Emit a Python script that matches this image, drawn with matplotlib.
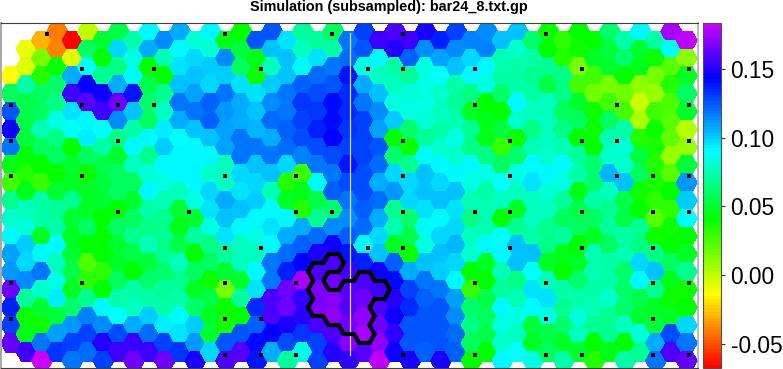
import matplotlib
matplotlib.use("Agg")
import matplotlib.pyplot as plt
import numpy as np
from matplotlib.collections import LineCollection, PolyCollection
from matplotlib.colors import LinearSegmentedColormap

plt.rcParams["font.family"] = ["Liberation Sans", "DejaVu Sans"]

n = None

# hex values in thousandths, one list per column, top to bottom
hex_values = [
    [n, n, -14, 60, 125, 145, 118, 45, 28, 68, 80, 92, 110, 112, 165, 137, 130, 162, n],
    [n, -10, -6, 72, 55, 55, 52, 40, 35, 45, 78, 82, 100, 98, 113, 70, 38, 45, 155],
    [-30, 15, 35, 60, 60, 75, 58, 40, 30, 72, 72, 48, 92, 118, 80, 50, 38, 118, 183],
    [-42, -38, 38, 62, 65, 85, 65, 58, 42, 50, 70, 72, 90, 78, 85, 94, 52, 110, 132],
    [-67, -8, 108, 155, 95, 88, 42, 50, 48, 68, 50, 48, 50, 55, 48, 62, 112, 130, 118],
    [0, 58, 88, 143, 160, 92, 93, 60, 38, 48, 48, 58, 40, 25, 32, 68, 116, 130, 120],
    [50, 42, 68, 146, 155, 88, 72, 55, 52, 50, 42, 40, 40, 32, 42, 92, 114, 150, 130],
    [55, 97, 65, 108, 165, 113, 65, 50, 58, 58, 42, 58, 50, 48, 58, 72, 88, 127, 155],
    [72, 85, 92, 138, 103, 72, 92, 78, 60, 50, 58, 68, 55, 42, 72, 78, 108, 155, 165],
    [90, 108, 40, 55, 62, 60, 92, 68, 82, 90, 72, 65, 75, 52, 62, 72, 100, 120, 155],
    [114, 75, 42, 68, 78, 93, 100, 90, 85, 75, 68, 68, 68, 62, 70, 72, 93, 130, 165],
    [106, 92, 95, 103, 118, 106, 88, 92, 92, 78, 50, 45, 55, 78, 68, 72, 92, 95, 133],
    [82, 98, 103, 110, 118, 103, 92, 90, 90, 85, 50, 70, 42, 60, 48, 62, 100, 112, 147],
    [92, 82, 100, 97, 124, 122, 103, 90, 80, 97, 95, 85, 65, 60, 38, 55, 48, 50, 98],
    [45, 114, 100, 118, 112, 110, 110, 78, 78, 108, 103, 95, 70, 50, 15, 38, 36, 125, 157],
    [42, 52, 58, 95, 106, 108, 118, 118, 98, 95, 103, 90, 78, 78, 50, 70, 42, 125, 160],
    [125, 45, 38, 95, 103, 105, 118, 103, 97, 100, 92, 85, 78, 92, 95, 135, 122, 142, 140],
    [125, 103, 78, 100, 115, 120, 108, 118, 103, 75, 92, 95, 92, 118, 118, 157, 157, 143, 108],
    [95, 102, 103, 118, 118, 122, 120, 97, 35, 48, 92, 108, 120, 137, 163, 165, 147, 127, 70],
    [70, 78, 90, 122, 133, 130, 127, 116, 30, 45, 35, 108, 122, 143, 175, 152, 150, 132, 85],
    [70, 95, 120, 127, 133, 137, 127, 118, 92, 55, 68, 120, 148, 158, 167, 167, 157, 130, 130],
    [60, 72, 118, 125, 142, 142, 143, 128, 118, 122, 62, 113, 145, 158, 165, 168, 172, 158, 150],
    [118, 120, 138, 135, 135, 133, 130, 140, 127, 118, 113, 122, 140, 155, 160, 160, 165, 168, 153],
    [130, 126, 85, 108, 118, 130, 130, 130, 127, 127, 124, 120, 92, 137, 157, 163, 170, 176, 160],
    [155, 92, 78, 102, 113, 110, 125, 120, 108, 120, 106, 98, 103, 145, 155, 157, 165, 170, 180],
    [158, 150, 72, 78, 85, 100, 42, 62, 98, 112, 68, 75, 48, 124, 142, 150, 146, 153, 146],
    [155, 122, 70, 82, 85, 62, 38, 68, 97, 98, 62, 55, 38, 108, 130, 135, 126, 126, 147],
    [147, 115, 85, 85, 85, 82, 70, 92, 103, 103, 95, 90, 85, 103, 118, 122, 125, 125, 122],
    [136, 110, 88, 80, 78, 72, 80, 92, 98, 103, 90, 97, 103, 100, 118, 126, 125, 125, 147],
    [130, 114, 102, 72, 70, 75, 85, 80, 92, 102, 96, 97, 105, 97, 90, 110, 113, 120, 122],
    [116, 98, 92, 65, 48, 68, 65, 90, 85, 75, 65, 78, 80, 42, 30, 62, 65, 60, 40],
    [115, 116, 92, 85, 42, 45, 45, 65, 85, 72, 75, 75, 92, 48, 40, 55, 58, 55, 42],
    [103, 75, 72, 62, 40, 52, 30, 60, 88, 78, 42, 88, 92, 75, 70, 92, 85, 80, 92],
    [102, 80, 72, 72, 90, 80, 38, 62, 85, 78, 48, 68, 102, 103, 65, 75, 85, 78, 88],
    [62, 72, 68, 72, 78, 65, 75, 90, 95, 78, 78, 72, 103, 88, 95, 92, 52, 48, 85],
    [38, 42, 68, 55, 78, 78, 78, 80, 92, 82, 78, 68, 65, 48, 78, 95, 85, 55, 60],
    [32, 35, 65, 65, 60, 65, 75, 92, 85, 70, 58, 70, 45, 42, 72, 68, 62, 48, 72],
    [40, 38, 15, 28, 50, 60, 42, 70, 72, 45, 55, 60, 40, 48, 62, 72, 82, 78, 50],
    [42, 48, 28, 18, 38, 38, 40, 62, 62, 72, 60, 48, 75, 75, 72, 75, 68, 42, 35],
    [62, 52, 50, 15, 28, 58, 75, 80, 104, 78, 68, 70, 58, 72, 72, 80, 68, 68, 45],
    [72, 62, 42, 18, 28, 72, 82, 80, 103, 55, 55, 72, 75, 62, 62, 62, 78, 42, 72],
    [92, 50, 45, 12, -3, 5, 35, 52, 60, 38, 42, 68, 65, 97, 90, 55, 50, 82, 68],
    [72, 38, 15, 10, 28, 38, 36, 35, 36, 32, 22, 38, 65, 102, 68, 48, 52, 108, 118],
    [175, 88, 22, 35, 25, 22, 20, 10, 22, 40, 32, 38, 42, 58, 45, 38, 48, 128, 157],
    [180, 12, 48, 58, 50, 2, 10, 52, 112, 100, 88, 42, 48, 68, 38, 42, 98, 118, 162],
]

# hexes inside the thick contour, column: rows
contour_hexes = {
    20: [13, 14, 15],
    21: [13, 15, 16],
    22: [14, 15, 16],
    23: [14, 15, 16, 17],
    24: [14],
}

# small black squares, grid row: grid columns
dot_rows = [
    [1, 6, 9, 11, 15],
    [2, 4, 7, 10, 11, 13, 16, 19],
    [0, 2, 3, 4, 13, 17, 19],
    [0, 3, 11, 14, 16, 17, 19],
    [0, 2, 6, 8, 11, 14, 17, 18, 19],
    [3, 5, 8, 9, 11, 13, 14, 16, 18, 19],
    [6, 7, 10, 11, 14, 16, 18],
    [0, 2, 6, 8, 13, 15, 18, 19],
    [0, 6, 7, 15, 18],
    [6, 7, 8, 11, 13, 15, 16, 18, 19],
]

cbar_ticks = [-0.05, 0.0, 0.05, 0.10, 0.15]
cbar_labels = ["-0.05", "0.00", "0.05", "0.10", "0.15"]
title = "Simulation (subsampled): bar24_8.txt.gp"

W, H = 783, 369
vmin, vmax = -0.0675, 0.1835


def stop(v):
    return (v - vmin) / (vmax - vmin)


cmap = LinearSegmentedColormap.from_list(
    "sim",
    [
        (0.0, "#ff0000"),
        (stop(-0.0146), "#ffff00"),
        (stop(0.041), "#00ff00"),
        (stop(0.090), "#00ffff"),
        (stop(0.144), "#0000ff"),
        (1.0, "#cc00ff"),
    ],
    N=110,
)

fig = plt.figure(figsize=(W / 100, H / 100), dpi=100)
ax = fig.add_axes([1 / W, 1 - 368 / H, 697 / W, 345 / H])
ax.set_xlim(1, 698)
ax.set_ylim(368, 23)
ax.set_xticks([])
ax.set_yticks([])

# layout of the hex lattice, in pixels
x0, dx = 11.3, 15.35
y_even, y_odd, dy = 40.4, 31.5, 17.8
radius = dx / 1.5
apothem = dy / 2


def center(col, row):
    y = y_even if col % 2 == 0 else y_odd
    return x0 + col * dx, y + row * dy


def corners(col, row):
    cx, cy = center(col, row)
    return [
        (cx - radius, cy),
        (cx - radius / 2, cy - apothem),
        (cx + radius / 2, cy - apothem),
        (cx + radius, cy),
        (cx + radius / 2, cy + apothem),
        (cx - radius / 2, cy + apothem),
    ]


verts = []
vals = []
for col, column in enumerate(hex_values):
    for row, v in enumerate(column):
        if v is not None:
            verts.append(corners(col, row))
            vals.append(v / 1000)

hexes = PolyCollection(verts, array=np.array(vals), cmap=cmap, antialiased=False)
hexes.set_clim(vmin, vmax)
hexes.set_edgecolor("face")
hexes.set_linewidth(0.4)
ax.add_collection(hexes)

# white line through the sheet
ax.plot([350.4, 350.4], [33, 355], color="#dcdce6", lw=0.9, zorder=3)

# contour: hex edges used by only one hex of the set
edges = {}
for col, rows in contour_hexes.items():
    for row in rows:
        c = corners(col, row)
        for i in range(6):
            a = (round(c[i][0], 2), round(c[i][1], 2))
            b = (round(c[(i + 1) % 6][0], 2), round(c[(i + 1) % 6][1], 2))
            key = tuple(sorted([a, b]))
            edges[key] = edges.get(key, 0) + 1
outline = [list(k) for k, count in edges.items() if count == 1]
ax.add_collection(LineCollection(outline, colors="black", linewidths=3.0, capstyle="round", zorder=4))

dot_x = []
dot_y = []
for j, columns in enumerate(dot_rows):
    for c in columns:
        dot_x.append(11 + c * 35.67)
        dot_y.append(33.8 + j * 35.67)
ax.scatter(dot_x, dot_y, marker="s", s=8.3, color="black", linewidths=0, zorder=5)

for side in ["left", "right"]:
    ax.spines[side].set_color("#a8a8a8")
ax.spines["left"].set_linewidth(1.5)
ax.spines["right"].set_linewidth(1.1)
for side in ["top", "bottom"]:
    ax.spines[side].set_color("#404040")
    ax.spines[side].set_linewidth(0.8)

cax = fig.add_axes([702.5 / W, 1 - 368 / H, 18 / W, 345 / H])
cbar = fig.colorbar(hexes, cax=cax)
cbar.set_ticks(cbar_ticks)
cbar.set_ticklabels(cbar_labels)
cbar.ax.tick_params(length=3.2, width=0.8, color="#303030", labelsize=16.4, pad=4)
cbar.outline.set_edgecolor("#505050")
cbar.outline.set_linewidth(0.8)

fig.text(389 / W, 1 - 7 / H, title, ha="center", va="center", fontsize=10.35, fontweight="bold")

fig.savefig("out.png", dpi=100)
